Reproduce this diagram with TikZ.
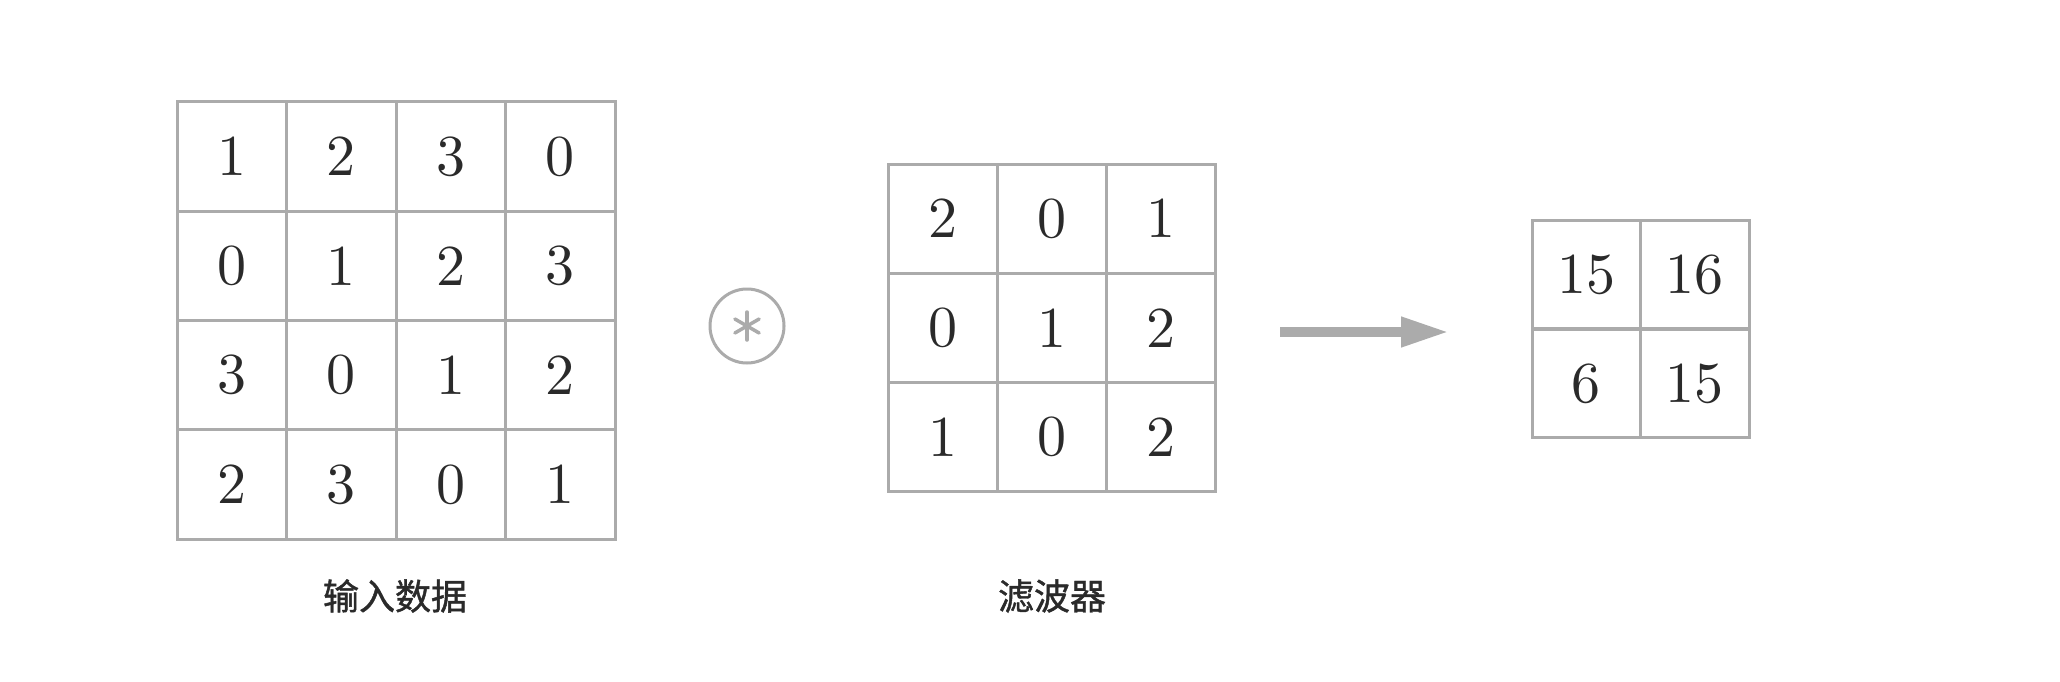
\documentclass[tikz,border=0pt]{standalone}
\usepackage{fontspec}
\newfontfamily\cjk{Noto Sans CJK SC}[FakeBold=1.2]
\newfontfamily\lmten{lmroman10-regular.otf}
\usetikzlibrary{arrows.meta,calc}
\definecolor{gridgray}{HTML}{ABABAB}
\definecolor{txt}{HTML}{2A2A2A}
\tikzset{
  cell/.style={draw=gridgray, line width=3pt, minimum width=#1, minimum height=#1,
    inner sep=0pt, text=txt, font=\lmten\fontsize{58}{58}\selectfont},
  cell/.default=109.5pt,
  caption/.style={text=txt, font=\cjk\fontsize{36}{36}\selectfont, inner sep=0pt},
  convop/.style={circle, draw=gridgray, line width=3pt, minimum size=74pt, inner sep=0pt},
  spoke/.style={draw=gridgray, line width=3.5pt, line cap=round},
  bigarrow/.style={draw=gridgray, line width=10pt, -{Triangle[length=48pt,width=28pt]}}
}
\begin{document}
\begin{tikzpicture}[x=1pt,y=-1pt]
\useasboundingbox[fill=white] (0,0) rectangle (2060,682);
% input data 4x4
\foreach \row [count=\j from 0] in {{1,2,3,0},{0,1,2,3},{3,0,1,2},{2,3,0,1}} {
  \foreach \v [count=\i from 0] in \row {
    \node[cell] (in-\j-\i) at ({177+109.5*(\i+0.5)},{102+109.25*(\j+0.5)}) {\v};
  }
}
% filter 3x3
\foreach \row [count=\j from 0] in {{2,0,1},{0,1,2},{1,0,2}} {
  \foreach \v [count=\i from 0] in \row {
    \node[cell=109pt] (f-\j-\i) at ({888+109*(\i+0.5)},{164+109.3*(\j+0.5)}) {\v};
  }
}
% output 2x2
\foreach \row [count=\j from 0] in {{15,16},{6,15}} {
  \foreach \v [count=\i from 0] in \row {
    \node[cell=108.5pt] (o-\j-\i) at ({1532+108.5*(\i+0.5)},{220+109*(\j+0.5)}) {\v};
  }
}
% convolution operator
\node[convop] (op) at (747,326) {};
\foreach \a in {90,30,-30} {
  \draw[spoke] ($(op.center)+(\a:14)$) -- ($(op.center)+(\a+180:14)$);
}
% arrow
\coordinate (a0) at (1280,332);
\coordinate (a1) at (1449,332);
\draw[bigarrow] (a0) -- (a1);
% captions
\node[caption] (lab-in) at (395,596) {输入数据};
\node[caption] (lab-f) at (1052,596) {滤波器};
\end{tikzpicture}
\end{document}
